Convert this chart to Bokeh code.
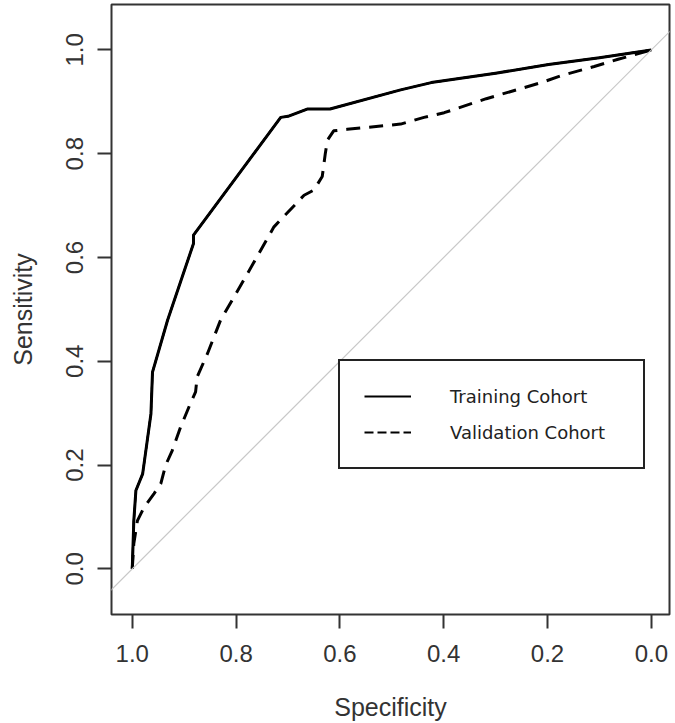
from bokeh.plotting import figure
from bokeh.models import Range1d, FixedTicker, PrintfTickFormatter, Slope, Legend, LegendItem
from bokeh.embed import file_html
from bokeh.resources import INLINE

# ROC data (specificity, sensitivity)
train_spec = [1.0, 0.997, 0.993, 0.980, 0.971, 0.964, 0.961, 0.932, 0.882, 0.882,
              0.714, 0.700, 0.663, 0.619, 0.483, 0.424, 0.300, 0.198, 0.100, 0.0]
train_sens = [0.0, 0.093, 0.151, 0.183, 0.248, 0.299, 0.379, 0.479, 0.627, 0.643,
              0.870, 0.872, 0.886, 0.886, 0.923, 0.937, 0.955, 0.972, 0.985, 1.0]

valid_spec = [1.0, 0.997, 0.990, 0.977, 0.958, 0.945, 0.936, 0.923, 0.907, 0.887,
              0.878, 0.875, 0.855, 0.830, 0.778, 0.727, 0.669, 0.650, 0.634, 0.628,
              0.624, 0.612, 0.586, 0.483, 0.438, 0.399, 0.318, 0.212, 0.175, 0.110,
              0.064, 0.049, 0.0]
valid_sens = [0.0, 0.049, 0.093, 0.119, 0.145, 0.164, 0.199, 0.228, 0.273, 0.321,
              0.341, 0.370, 0.415, 0.479, 0.569, 0.659, 0.720, 0.730, 0.756, 0.801,
              0.826, 0.844, 0.847, 0.857, 0.870, 0.879, 0.906, 0.937, 0.950, 0.968,
              0.982, 0.986, 1.0]

tick_values = [0.0, 0.2, 0.4, 0.6, 0.8, 1.0]
series_names = ["Training Cohort", "Validation Cohort"]

p = figure(width=675, height=723, output_backend="svg", toolbar_location=None,
           x_range=Range1d(1.04, -0.035), y_range=Range1d(-0.088, 1.0875),
           min_border_left=111, min_border_right=6, min_border_top=4, min_border_bottom=109)

p.grid.visible = False
p.background_fill_color = "white"
p.border_fill_color = "white"
p.outline_line_color = "#333333"
p.outline_line_width = 2
p.outline_line_alpha = 1.0

for ax in (p.xaxis[0], p.yaxis[0]):
    ax.ticker = FixedTicker(ticks=tick_values)
    ax.formatter = PrintfTickFormatter(format="%.1f")
    ax.axis_line_color = None
    ax.major_tick_line_color = "#333333"
    ax.major_tick_line_width = 2
    ax.major_tick_out = 14
    ax.major_tick_in = 0
    ax.minor_tick_line_color = None
    ax.major_label_text_font = "Liberation Sans"
    ax.major_label_text_font_size = "24px"
    ax.major_label_text_color = "#333333"
    ax.axis_label_text_font = "Liberation Sans"
    ax.axis_label_text_font_size = "25px"
    ax.axis_label_text_font_style = "normal"
    ax.axis_label_text_color = "#333333"

p.xaxis.axis_label = "Specificity"
p.yaxis.axis_label = "Sensitivity"
p.xaxis.major_label_standoff = 16
p.xaxis.axis_label_standoff = 28
p.yaxis.major_label_standoff = 14
p.yaxis.axis_label_standoff = 27
p.yaxis.major_label_orientation = "vertical"

# chance diagonal
p.add_layout(Slope(gradient=-1, y_intercept=1, line_color="#c8c8c8", line_width=1.2))

# legend key renderers, drawn underneath the solid training curve (hidden by it)
lg1 = p.line(train_spec, train_sens, line_color="black", line_width=2)
lg2 = p.line(train_spec, train_sens, line_color="black", line_width=2, line_dash="9 4")

p.line(train_spec, train_sens, line_color="black", line_width=3, line_join="round")
p.line(valid_spec, valid_sens, line_color="black", line_width=3, line_dash="14 9")

legend = Legend(items=[LegendItem(label=series_names[0], renderers=[lg1]),
                       LegendItem(label=series_names[1], renderers=[lg2])],
                location=(227, 145), orientation="vertical",
                padding=24, spacing=14, glyph_width=47, glyph_height=22,
                label_height=22, label_width=169, label_standoff=39,
                label_text_font="DejaVu Sans", label_text_font_size="18px",
                label_text_color="#222222",
                border_line_color="#222222", border_line_width=2, border_line_alpha=1.0,
                background_fill_color="white", background_fill_alpha=1.0, margin=0)
p.add_layout(legend, "center")

open("out.html", "w").write(file_html(p, INLINE))
